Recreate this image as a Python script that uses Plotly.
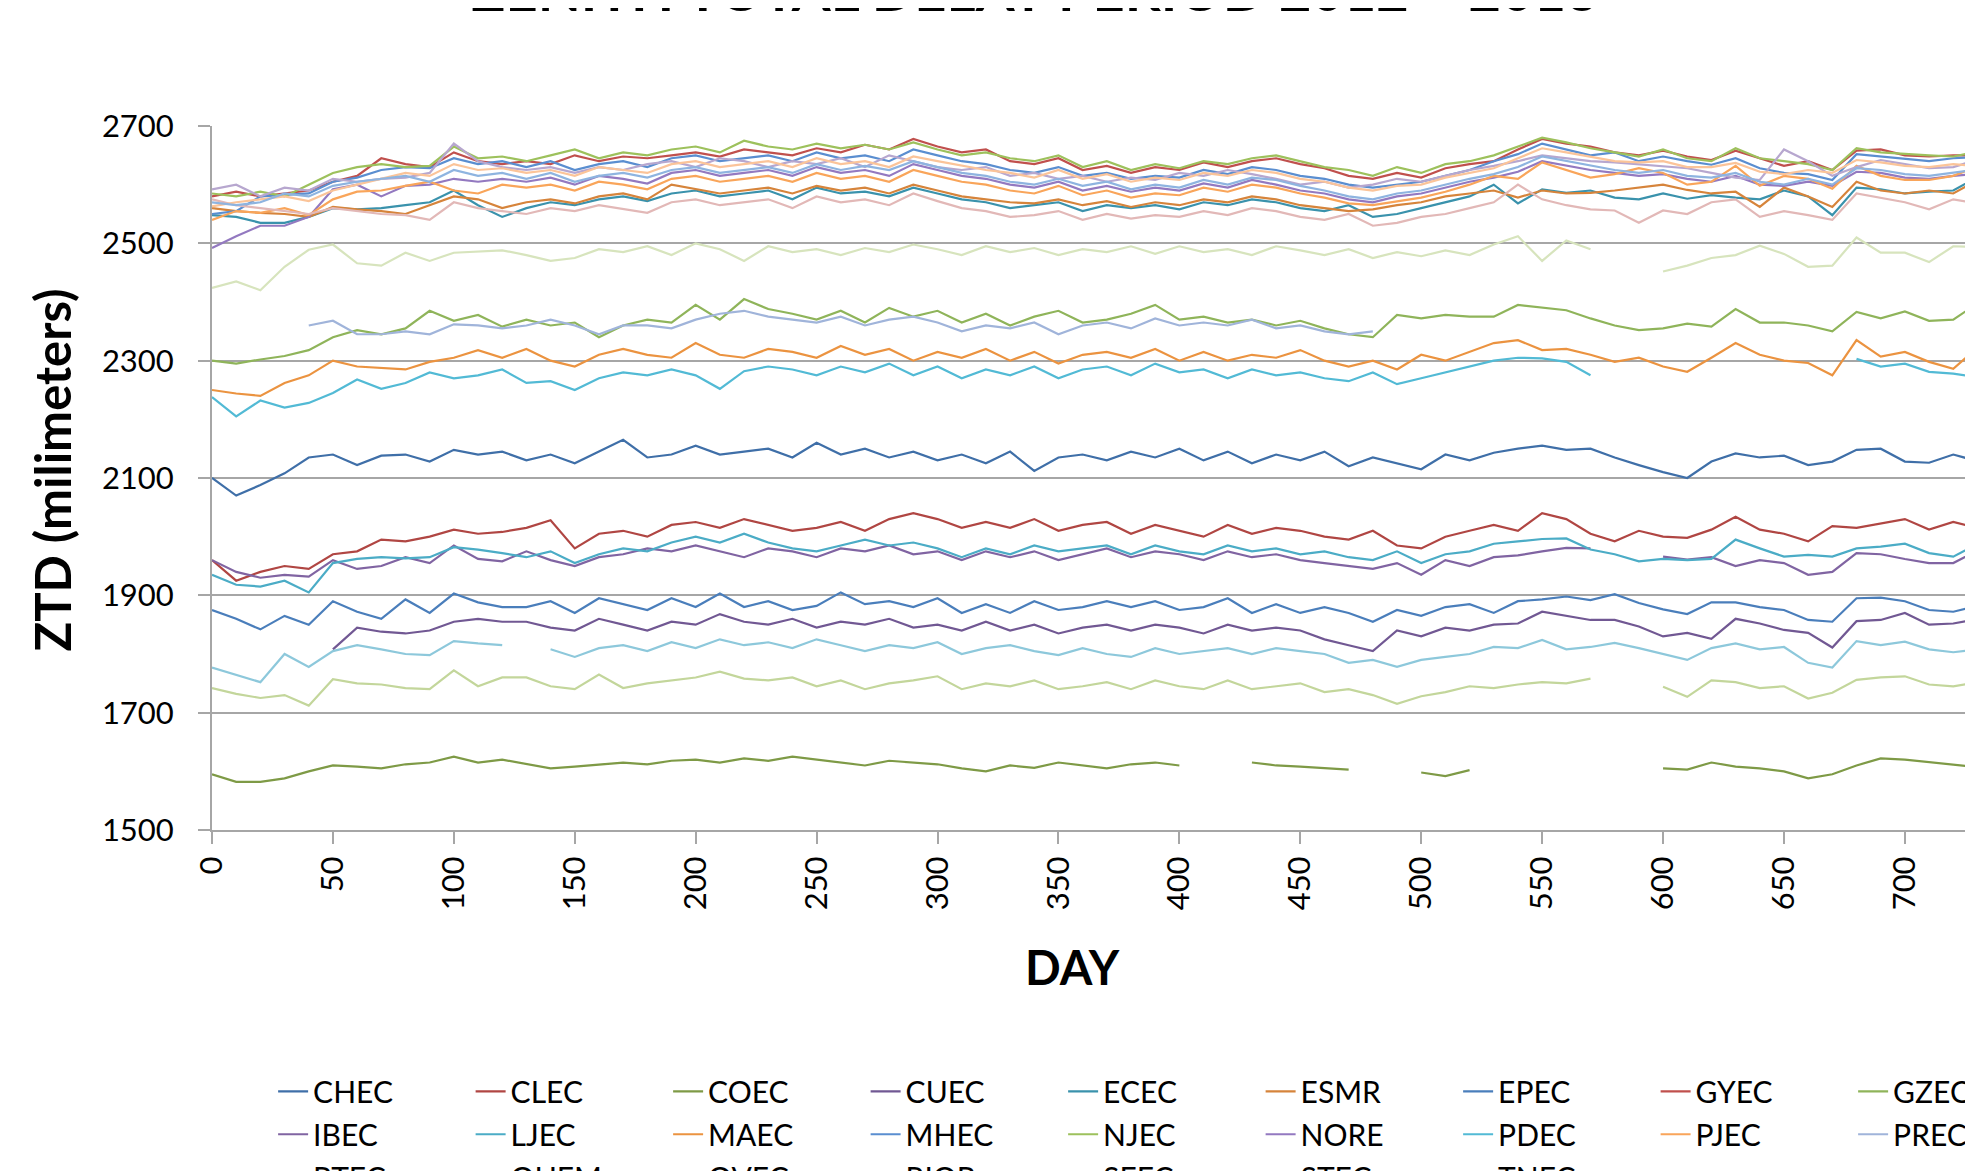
import plotly.graph_objects as go

# ---------------- data ----------------
DAYS = [0, 10, 20, 30, 40, 50, 60, 70, 80, 90,
        100, 110, 120, 130, 140, 150, 160, 170, 180, 190,
        200, 210, 220, 230, 240, 250, 260, 270, 280, 290,
        300, 310, 320, 330, 340, 350, 360, 370, 380, 390,
        400, 410, 420, 430, 440, 450, 460, 470, 480, 490,
        500, 510, 520, 530, 540, 550, 560, 570, 580, 590,
        600, 610, 620, 630, 640, 650, 660, 670, 680, 690,
        700, 710, 720, 728]

X_TICKS = [0, 50, 100, 150, 200, 250, 300, 350, 400, 450, 500, 550, 600, 650, 700]
Y_TICKS = [1500, 1700, 1900, 2100, 2300, 2500, 2700]

CHEC = [2100, 2070, 2088, 2108, 2135, 2140, 2122, 2138, 2140, 2128,
        2148, 2140, 2145, 2130, 2140, 2125, 2145, 2165, 2135, 2140,
        2155, 2140, 2145, 2150, 2135, 2160, 2140, 2150, 2135, 2145,
        2130, 2140, 2125, 2145, 2112, 2135, 2140, 2130, 2145, 2135,
        2150, 2130, 2145, 2125, 2140, 2130, 2145, 2120, 2135, 2125,
        2115, 2140, 2130, 2143, 2150, 2155, 2148, 2150, 2135, 2122,
        2110, 2100, 2128, 2142, 2135, 2138, 2122, 2128, 2148, 2150,
        2128, 2126, 2140, 2131]
CLEC = [1960, 1925, 1940, 1950, 1945, 1970, 1975, 1995, 1992, 2000,
        2012, 2005, 2008, 2015, 2028, 1980, 2005, 2010, 2000, 2020,
        2025, 2015, 2030, 2020, 2010, 2015, 2025, 2010, 2030, 2040,
        2030, 2015, 2025, 2015, 2030, 2010, 2020, 2025, 2005, 2020,
        2010, 2000, 2020, 2005, 2015, 2010, 2000, 1995, 2010, 1985,
        1980, 2000, 2010, 2020, 2010, 2040, 2030, 2005, 1992, 2010,
        2000, 1998, 2012, 2034, 2012, 2005, 1992, 2018, 2015, 2022,
        2030, 2012, 2025, 2017]
COEC = [1595, 1582, 1582, 1588, 1600, 1610, 1608, 1605, 1612, 1615,
        1625, 1615, 1620, 1612, 1605, 1608, 1612, 1615, 1612, 1618,
        1620, 1615, 1622, 1618, 1625, 1620, 1615, 1610, 1618, 1615,
        1612, 1605, 1600, 1610, 1606, 1615, 1610, 1605, 1612, 1615,
        1610, None, None, 1615, 1610, 1608, 1605, 1603, None, None,
        1598, 1592, 1602, None, None, None, None, None, None, None,
        1605, 1603, 1615, 1608, 1605, 1600, 1588, 1595, 1610, 1622,
        1620, 1616, 1612, 1608]
CUEC = [None, None, None, None, None, 1808, 1845, 1838, 1835, 1840,
        1855, 1860, 1855, 1855, 1845, 1840, 1860, 1850, 1840, 1855,
        1850, 1868, 1855, 1850, 1860, 1845, 1855, 1850, 1860, 1845,
        1850, 1840, 1855, 1840, 1850, 1835, 1845, 1850, 1840, 1850,
        1845, 1835, 1850, 1840, 1845, 1840, 1825, 1815, 1805, 1840,
        1830, 1845, 1840, 1850, 1852, 1872, 1865, 1858, 1858, 1847,
        1830, 1836, 1826, 1860, 1852, 1841, 1836, 1811, 1856, 1858,
        1870, 1850, 1852, 1858]
ECEC = [2548, 2545, 2535, 2535, 2545, 2560, 2558, 2560, 2565, 2570,
        2590, 2565, 2545, 2560, 2570, 2565, 2575, 2580, 2572, 2585,
        2590, 2580, 2585, 2590, 2575, 2595, 2585, 2588, 2580, 2595,
        2585, 2575, 2570, 2560, 2565, 2570, 2555, 2565, 2560, 2565,
        2558, 2570, 2565, 2575, 2570, 2560, 2555, 2565, 2545, 2550,
        2560, 2570, 2580, 2600, 2568, 2592, 2586, 2590, 2578, 2575,
        2585, 2576, 2582, 2578, 2575, 2590, 2580, 2548, 2595, 2592,
        2585, 2588, 2590, 2608]
ESMR = [2560, 2555, 2552, 2550, 2545, 2562, 2558, 2555, 2550, 2565,
        2580, 2575, 2560, 2570, 2575, 2568, 2580, 2585, 2575, 2600,
        2592, 2585, 2590, 2595, 2585, 2598, 2590, 2595, 2585, 2600,
        2590, 2580, 2575, 2570, 2568, 2575, 2565, 2572, 2562, 2570,
        2565, 2575, 2570, 2580, 2575, 2565, 2560, 2555, 2558, 2565,
        2570, 2580, 2585, 2590, 2578, 2590, 2585, 2586, 2590, 2595,
        2600, 2591, 2585, 2588, 2562, 2595, 2580, 2562, 2605, 2590,
        2585, 2590, 2585, 2603]
EPEC = [1875, 1860, 1842, 1865, 1850, 1890, 1872, 1860, 1893, 1870,
        1903, 1888, 1880, 1880, 1890, 1870, 1895, 1885, 1875, 1895,
        1880, 1903, 1880, 1890, 1875, 1882, 1905, 1885, 1890, 1880,
        1895, 1870, 1885, 1870, 1890, 1875, 1880, 1890, 1880, 1890,
        1875, 1880, 1895, 1870, 1885, 1870, 1880, 1870, 1855, 1875,
        1865, 1880, 1885, 1870, 1890, 1893, 1898, 1892, 1902, 1887,
        1876, 1868, 1888, 1888, 1880, 1875, 1858, 1855, 1895, 1896,
        1890, 1875, 1872, 1880]
GYEC = [2580, 2588, 2580, 2585, 2590, 2605, 2615, 2645, 2635, 2630,
        2655, 2640, 2635, 2640, 2635, 2650, 2640, 2648, 2645, 2650,
        2655, 2648, 2660, 2655, 2650, 2662, 2655, 2668, 2660, 2678,
        2665, 2655, 2660, 2640, 2635, 2645, 2625, 2632, 2620, 2630,
        2625, 2638, 2630, 2640, 2645, 2635, 2628, 2615, 2610, 2620,
        2612, 2628, 2635, 2640, 2660, 2678, 2670, 2665, 2655, 2650,
        2658, 2648, 2642, 2658, 2645, 2632, 2640, 2625, 2658, 2660,
        2650, 2648, 2650, 2650]
GZEC = [2300, 2295, 2302, 2308, 2318, 2340, 2352, 2345, 2355, 2385,
        2368, 2378, 2358, 2370, 2360, 2365, 2340, 2360, 2370, 2365,
        2395, 2370, 2405, 2388, 2380, 2370, 2385, 2365, 2390, 2375,
        2385, 2365, 2380, 2360, 2375, 2385, 2365, 2370, 2380, 2395,
        2370, 2375, 2365, 2370, 2360, 2368, 2355, 2345, 2340, 2378,
        2372, 2378, 2375, 2375, 2395, 2390, 2386, 2372, 2360, 2352,
        2355, 2363, 2358, 2388, 2365, 2365, 2360, 2350, 2383, 2372,
        2384, 2368, 2370, 2392]
IBEC = [1960, 1940, 1930, 1935, 1932, 1960, 1945, 1950, 1965, 1955,
        1985, 1962, 1958, 1975, 1960, 1950, 1965, 1970, 1980, 1975,
        1985, 1975, 1965, 1980, 1975, 1965, 1980, 1975, 1985, 1970,
        1975, 1960, 1975, 1965, 1975, 1960, 1970, 1980, 1965, 1975,
        1970, 1960, 1975, 1965, 1970, 1960, 1955, 1950, 1945, 1955,
        1935, 1960, 1950, 1965, 1968, 1975, 1981, 1980, None, None,
        1966, 1961, 1965, 1950, 1960, 1955, 1935, 1940, 1972, 1970,
        1962, 1955, 1955, 1972]
LJEC = [1935, 1918, 1915, 1925, 1905, 1955, 1962, 1965, 1963, 1965,
        1982, 1978, 1972, 1965, 1975, 1955, 1970, 1980, 1975, 1990,
        2000, 1990, 2005, 1990, 1980, 1975, 1985, 1995, 1985, 1990,
        1980, 1965, 1980, 1970, 1985, 1975, 1980, 1985, 1970, 1985,
        1975, 1970, 1985, 1975, 1980, 1970, 1975, 1965, 1960, 1975,
        1955, 1970, 1975, 1988, 1992, 1996, 1997, 1978, 1970, 1958,
        1962, 1960, 1962, 1995, 1980, 1966, 1969, 1966, 1980, 1983,
        1988, 1972, 1966, 1983]
MAEC = [2250, 2244, 2240, 2262, 2275, 2300, 2290, 2288, 2285, 2298,
        2305, 2318, 2305, 2320, 2300, 2290, 2310, 2320, 2310, 2305,
        2330, 2310, 2305, 2320, 2315, 2305, 2325, 2310, 2320, 2300,
        2315, 2305, 2320, 2300, 2315, 2295, 2310, 2315, 2305, 2320,
        2300, 2315, 2300, 2310, 2305, 2318, 2300, 2290, 2300, 2285,
        2310, 2300, 2315, 2330, 2335, 2318, 2320, 2310, 2298, 2305,
        2290, 2281, 2305, 2330, 2310, 2300, 2296, 2275, 2335, 2307,
        2315, 2298, 2286, 2315]
MHEC = [2550, 2555, 2580, 2582, 2585, 2605, 2612, 2625, 2630, 2628,
        2645, 2635, 2640, 2630, 2640, 2625, 2635, 2640, 2630, 2645,
        2650, 2640, 2645, 2650, 2640, 2655, 2645, 2650, 2640, 2660,
        2650, 2640, 2635, 2625, 2620, 2630, 2615, 2620, 2610, 2615,
        2612, 2625, 2618, 2630, 2625, 2615, 2610, 2600, 2595, 2600,
        2605, 2615, 2625, 2640, 2652, 2670, 2660, 2650, 2655, 2640,
        2648, 2640, 2634, 2645, 2628, 2620, 2618, 2608, 2652, 2648,
        2645, 2640, 2645, 2647]
NJEC = [2585, 2580, 2588, 2580, 2600, 2620, 2630, 2635, 2630, 2632,
        2665, 2645, 2648, 2640, 2650, 2660, 2645, 2655, 2650, 2660,
        2665, 2655, 2675, 2665, 2660, 2670, 2662, 2668, 2660, 2672,
        2660, 2650, 2655, 2645, 2640, 2650, 2630, 2640, 2625, 2635,
        2628, 2640, 2635, 2645, 2650, 2640, 2630, 2625, 2615, 2630,
        2620, 2635, 2640, 2650, 2665, 2680, 2672, 2662, 2655, 2648,
        2660, 2645, 2640, 2662, 2645, 2640, 2635, 2625, 2662, 2655,
        2652, 2650, 2648, 2655]
NORE = [2492, 2512, 2530, 2530, 2545, 2592, 2600, 2580, 2598, 2600,
        2610, 2605, 2610, 2605, 2612, 2600, 2615, 2610, 2602, 2620,
        2625, 2615, 2620, 2625, 2615, 2630, 2620, 2625, 2615, 2635,
        2625, 2615, 2610, 2600, 2595, 2605, 2590, 2598, 2588, 2595,
        2590, 2602, 2595, 2608, 2600, 2590, 2585, 2575, 2570, 2580,
        2585, 2595, 2605, 2612, 2622, 2640, 2632, 2625, 2620, 2615,
        2618, 2610, 2605, 2615, 2600, 2598, 2605, 2598, 2622, 2620,
        2612, 2610, 2615, 2618]
PDEC = [2238, 2205, 2232, 2220, 2228, 2245, 2268, 2252, 2262, 2280,
        2270, 2275, 2285, 2262, 2265, 2250, 2270, 2280, 2275, 2285,
        2275, 2252, 2282, 2290, 2285, 2275, 2290, 2280, 2295, 2275,
        2290, 2270, 2285, 2275, 2290, 2270, 2285, 2290, 2275, 2295,
        2280, 2285, 2270, 2285, 2275, 2280, 2270, 2265, 2280, 2260,
        2270, 2280, 2290, 2300, 2305, 2304, 2298, 2275, None, None,
        None, None, None, None, None, None, None, None, 2303, 2290,
        2295, 2281, 2278, 2273]
PJEC = [2540, 2555, 2552, 2560, 2548, 2575, 2588, 2590, 2598, 2605,
        2590, 2585, 2600, 2595, 2600, 2590, 2605, 2600, 2592, 2610,
        2615, 2605, 2610, 2615, 2605, 2620, 2610, 2615, 2605, 2625,
        2615, 2605, 2600, 2590, 2585, 2598, 2582, 2590, 2578, 2585,
        2582, 2595, 2588, 2600, 2595, 2585, 2578, 2568, 2565, 2572,
        2578, 2588, 2600, 2615, 2610, 2638, 2625, 2612, 2618, 2628,
        2620, 2600, 2605, 2632, 2598, 2615, 2610, 2593, 2632, 2615,
        2608, 2608, 2615, 2628]
PREC = [None, None, None, None, 2360, 2368, 2345, 2345, 2350, 2345,
        2362, 2360, 2355, 2360, 2370, 2360, 2345, 2360, 2360, 2355,
        2370, 2380, 2385, 2375, 2370, 2365, 2375, 2360, 2370, 2375,
        2365, 2350, 2360, 2355, 2365, 2345, 2360, 2365, 2355, 2372,
        2360, 2365, 2360, 2370, 2355, 2360, 2350, 2345, 2350, None,
        None, None, None, None, None, None, None, None, None, None,
        None, None, None, None, None, None, None, None, None, None,
        None, None, None, None]
PTEC = [2575, 2565, 2560, 2555, 2550, 2560, 2555, 2550, 2548, 2540,
        2570, 2560, 2555, 2550, 2560, 2555, 2565, 2558, 2552, 2570,
        2575, 2565, 2570, 2575, 2560, 2580, 2570, 2575, 2565, 2585,
        2572, 2560, 2555, 2545, 2548, 2555, 2540, 2550, 2542, 2548,
        2545, 2555, 2548, 2560, 2555, 2545, 2540, 2550, 2530, 2535,
        2545, 2550, 2560, 2570, 2600, 2575, 2565, 2558, 2556, 2535,
        2556, 2550, 2570, 2575, 2545, 2555, 2548, 2540, 2585, 2578,
        2570, 2558, 2575, 2569]
QUEM = [1742, 1732, 1725, 1730, 1712, 1757, 1750, 1748, 1742, 1740,
        1772, 1745, 1760, 1760, 1745, 1740, 1765, 1742, 1750, 1755,
        1760, 1770, 1758, 1755, 1760, 1745, 1755, 1740, 1750, 1755,
        1762, 1740, 1750, 1745, 1755, 1740, 1745, 1752, 1740, 1755,
        1745, 1740, 1755, 1740, 1745, 1750, 1735, 1740, 1730, 1715,
        1728, 1735, 1745, 1742, 1748, 1752, 1750, 1758, None, None,
        1744, 1727, 1755, 1752, 1742, 1745, 1724, 1734, 1756, 1760,
        1762, 1748, 1745, 1750]
QVEC = [2592, 2600, 2580, 2595, 2590, 2610, 2605, 2610, 2612, 2620,
        2670, 2640, 2630, 2625, 2630, 2620, 2630, 2625, 2635, 2640,
        2630, 2645, 2640, 2630, 2640, 2635, 2645, 2630, 2650, 2640,
        2630, 2625, 2630, 2615, 2620, 2610, 2615, 2605, 2612, 2608,
        2620, 2615, 2625, 2618, 2610, 2600, 2605, 2595, 2600, 2610,
        2605, 2615, 2625, 2632, 2640, 2650, 2645, 2640, 2638, 2635,
        2632, 2628, 2620, 2612, 2608, 2660, 2640, 2615, 2630, 2642,
        2635, 2628, 2630, 2640]
RIOP = [1777, 1765, 1752, 1800, 1778, 1805, 1815, 1808, 1800, 1798,
        1822, 1818, 1815, None, 1808, 1795, 1810, 1815, 1805, 1820,
        1810, 1825, 1815, 1820, 1810, 1825, 1815, 1805, 1815, 1810,
        1820, 1800, 1810, 1815, 1805, 1798, 1810, 1800, 1795, 1810,
        1800, 1805, 1810, 1800, 1810, 1805, 1800, 1785, 1790, 1778,
        1790, 1795, 1800, 1812, 1810, 1824, 1808, 1812, 1819, 1810,
        1800, 1790, 1810, 1818, 1808, 1812, 1785, 1777, 1822, 1815,
        1821, 1808, 1803, 1807]
SEEC = [2563, 2570, 2575, 2580, 2572, 2590, 2600, 2610, 2620, 2615,
        2635, 2625, 2628, 2620, 2625, 2615, 2630, 2625, 2620, 2635,
        2640, 2630, 2635, 2640, 2630, 2645, 2635, 2640, 2630, 2648,
        2640, 2632, 2625, 2620, 2612, 2625, 2610, 2618, 2605, 2612,
        2608, 2620, 2615, 2625, 2620, 2610, 2605, 2595, 2590, 2598,
        2600, 2612, 2620, 2628, 2645, 2662, 2655, 2648, 2640, 2638,
        2640, 2630, 2630, 2637, 2622, 2618, 2625, 2620, 2642, 2638,
        2632, 2630, 2635, 2632]
STEC = [2424, 2435, 2420, 2460, 2489, 2498, 2466, 2462, 2484, 2470,
        2484, 2486, 2488, 2480, 2470, 2475, 2490, 2485, 2495, 2480,
        2500, 2490, 2470, 2495, 2485, 2490, 2480, 2492, 2485, 2498,
        2490, 2480, 2495, 2485, 2492, 2480, 2490, 2485, 2495, 2482,
        2495, 2485, 2490, 2480, 2495, 2488, 2480, 2490, 2475, 2485,
        2478, 2488, 2480, 2498, 2512, 2470, 2505, 2490, None, None,
        2452, 2462, 2475, 2480, 2496, 2482, 2460, 2462, 2510, 2484,
        2484, 2468, 2495, 2494]
TNEC = [2570, 2565, 2570, 2585, 2580, 2598, 2605, 2610, 2615, 2605,
        2625, 2615, 2620, 2610, 2620, 2605, 2615, 2620, 2612, 2625,
        2630, 2620, 2625, 2630, 2620, 2635, 2625, 2632, 2625, 2640,
        2630, 2620, 2615, 2605, 2600, 2610, 2598, 2605, 2592, 2600,
        2595, 2608, 2600, 2612, 2608, 2598, 2590, 2580, 2575, 2585,
        2590, 2600, 2610, 2618, 2630, 2648, 2640, 2632, 2625, 2620,
        2625, 2615, 2612, 2620, 2605, 2600, 2610, 2600, 2628, 2625,
        2618, 2615, 2620, 2625]

STATIONS = ["CHEC", "CLEC", "COEC", "CUEC", "ECEC", "ESMR", "EPEC", "GYEC", "GZEC",
            "IBEC", "LJEC", "MAEC", "MHEC", "NJEC", "NORE", "PDEC", "PJEC", "PREC",
            "PTEC", "QUEM", "QVEC", "RIOP", "SEEC", "STEC", "TNEC"]
SERIES = [CHEC, CLEC, COEC, CUEC, ECEC, ESMR, EPEC, GYEC, GZEC,
          IBEC, LJEC, MAEC, MHEC, NJEC, NORE, PDEC, PJEC, PREC,
          PTEC, QUEM, QVEC, RIOP, SEEC, STEC, TNEC]
COLORS = ["#3F6FA8", "#B04643", "#7E9A46", "#715893", "#3A92AC", "#D6843B", "#4A7EBB",
          "#C0504D", "#8FB45A", "#8064A2", "#4BACC6", "#EB9340", "#5A8ED0", "#9DC15C",
          "#9379C0", "#52BAD5", "#F9A55A", "#A0B4DA", "#E2B8B7", "#C3D69B", "#B7A7CF",
          "#8DC8DB", "#FBC499", "#D7E4BD", "#8EB4E0"]

for s in SERIES:
    assert len(s) == len(DAYS)

# ---------------- figure ----------------
# The page body has an 8px default margin, so the figure's origin sits at page (8, 8).
OFF = 8
W, H = 1973, 1171
PAGE_PLOT_LEFT, PAGE_PLOT_TOP, PAGE_PLOT_BOTTOM = 212.3, 126, 830.4
L = PAGE_PLOT_LEFT - OFF
T = PAGE_PLOT_TOP - OFF
B = H - (PAGE_PLOT_BOTTOM - OFF)
R = 0
PW, PH = W - L - R, H - T - B
X_MAX = PW / 2.418          # 2.418 px per day in the reference
FONT = "Lato"
GRID = "#A6A6A6"
PER_ROW = 9
ROW_PITCH = 42.8
LEGEND_IDS = ["legend", "legend2", "legend3"]

fig = go.Figure()
for k, (name, vals, col) in enumerate(zip(STATIONS, SERIES, COLORS)):
    fig.add_trace(go.Scatter(x=DAYS, y=vals, mode="lines", name=name,
                             legend=LEGEND_IDS[k // PER_ROW],
                             line=dict(color=col, width=2.2), connectgaps=False))


def px_x(page_x):
    return (page_x - OFF - L) / PW


def px_y(page_y):
    return (H - B - (page_y - OFF)) / PH


def legend_row(row):
    return dict(orientation="h", x=-0.0005, xanchor="left",
                y=px_y(1092 - 26 + row * ROW_PITCH), yanchor="top",
                font=dict(family=FONT, size=30, color="black"),
                title=dict(text="MM", side="left",
                           font=dict(family=FONT, size=28, color="rgba(0,0,0,0)")),
                entrywidth=152.5, entrywidthmode="pixels", itemwidth=30,
                bgcolor="rgba(0,0,0,0)", traceorder="normal")


fig.update_layout(
    width=W, height=H,
    margin=dict(l=L, r=R, t=T, b=B, autoexpand=False),
    paper_bgcolor="white", plot_bgcolor="white",
    font=dict(family=FONT, size=31, color="black"),
    title=dict(text="ZENITH TOTAL DELAY PERIOD 2012 – 2013",
               font=dict(family=FONT, size=56, color="black", weight="bold"),
               x=(1035 - OFF) / W, xanchor="center", xref="container",
               y=1 - (11 - OFF) / H, yanchor="bottom", yref="container"),
    xaxis=dict(range=[0, X_MAX], tickmode="array", tickvals=X_TICKS,
               tickangle=-90, ticks="outside", ticklen=12, tickwidth=2, tickcolor=GRID,
               showgrid=False, zeroline=False, showline=True, linecolor=GRID, linewidth=2,
               tickfont=dict(family=FONT, size=31, color="black"),
               ticklabelstandoff=0),
    yaxis=dict(range=[1500, 2700], tickmode="array", tickvals=Y_TICKS,
               ticks="outside", ticklen=12, tickwidth=2, tickcolor=GRID,
               showgrid=True, gridcolor=GRID, gridwidth=2, zeroline=False,
               showline=True, linecolor=GRID, linewidth=2,
               tickfont=dict(family=FONT, size=31, color="black"),
               ticklabelstandoff=18),
    legend=legend_row(0),
    legend2=legend_row(1),
    legend3=legend_row(2),
    showlegend=True,
    annotations=[
        dict(text="ZTD (milimeters)", xref="paper", yref="paper",
             x=px_x(52), y=px_y(470), xanchor="center", yanchor="middle",
             textangle=-90, showarrow=False,
             font=dict(family=FONT, size=49, color="black", weight="bold")),
        dict(text="DAY", xref="paper", yref="paper",
             x=px_x(1073), y=px_y(967), xanchor="center", yanchor="middle",
             showarrow=False,
             font=dict(family=FONT, size=47, color="black", weight="bold")),
    ],
)

fig.write_html("out.html")
